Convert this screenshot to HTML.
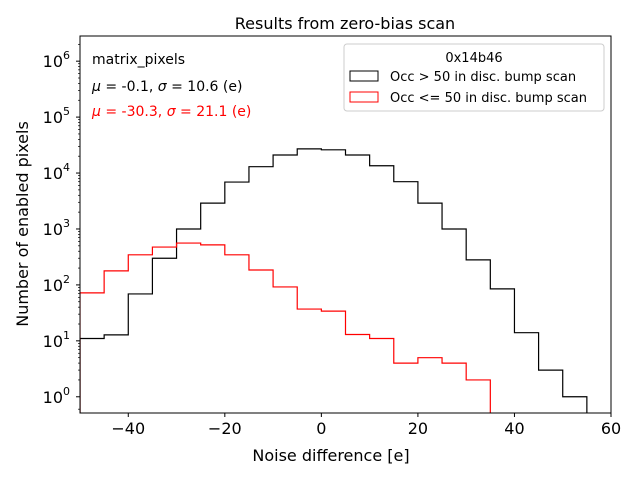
<!DOCTYPE html>
<html><head><meta charset="utf-8"><style>
body{margin:0;background:#fff;}
svg text{font-family:"DejaVu Sans","Liberation Sans",sans-serif;}
</style></head><body>
<svg id="chart" width="640" height="480" viewBox="0 0 640 480">
<rect width="640" height="480" fill="#fff"/>
<text x="345" y="29" font-size="16" text-anchor="middle">Results from zero-bias scan</text>
<defs><clipPath id="pc"><rect x="80" y="36" width="531" height="377"/></clipPath></defs>
<g id="marks" clip-path="url(#pc)"></g>
<rect x="80" y="36" width="531" height="377" fill="none" stroke="#000" stroke-width="1"/>
<g id="axes"></g>
<text x="331" y="461" font-size="16" text-anchor="middle">Noise difference [e]</text>
<text x="23" y="224" font-size="16" text-anchor="middle" transform="rotate(-90 23 224)" dy="5">Number of enabled pixels</text>
<text x="92" y="64" font-size="14">matrix_pixels</text>
<text x="92" y="91" font-size="14"><tspan font-style="italic">μ</tspan> = -0.1, <tspan font-style="italic">σ</tspan> = 10.6 (e)</text>
<text x="92" y="116" font-size="14" fill="#ff0000"><tspan font-style="italic">μ</tspan> = -30.3, <tspan font-style="italic">σ</tspan> = 21.1 (e)</text>
<g>
<rect x="344" y="44" width="260" height="67" rx="3" fill="#fff" stroke="#ccc"/>
<text x="474" y="62" font-size="13" text-anchor="middle">0x14b46</text>
<rect x="350" y="71" width="28" height="10" fill="none" stroke="#000"/>
<text x="390" y="81" font-size="13">Occ &gt; 50 in disc. bump scan</text>
<rect x="350" y="92" width="28" height="10" fill="none" stroke="#ff0000"/>
<text x="390" y="102" font-size="13">Occ &lt;= 50 in disc. bump scan</text>
</g>
</svg>
<script>
const binEdgesBlack=[-50,-45,-40,-35,-30,-25,-20,-15,-10,-5,0,5,10,15,20,25,30,35,40,45,50,55];
const countsBlack=[11,12.8,69,300,1000,2900,6900,13000,21000,27000,26000,21000,13500,7000,2900,1000,280,85,14,3,1];
const binEdgesRed=[-50,-45,-40,-35,-30,-25,-20,-15,-10,-5,0,5,10,15,20,25,30,35];
const countsRed=[72,178,345,475,560,520,345,185,92,37,34,13,11,4,5,4,2];
const xTicks=[-40,-20,0,20,40,60];
const yTickExps=[0,1,2,3,4,5,6];
const NS="http://www.w3.org/2000/svg";
const X0=80,X1=611,Y0=413,Y1=36;
const xmin=-50,xmax=60,lmin=-0.29,lmax=6.45;
function xs(v){return X0+(v-xmin)/(xmax-xmin)*(X1-X0);}
function ys(v){return Y0-(Math.log10(v)-lmin)/(lmax-lmin)*(Y0-Y1);}
function mk(t,a){const e=document.createElementNS(NS,t);for(const k in a)e.setAttribute(k,a[k]);return e;}
const marks=document.getElementById('marks'),axes=document.getElementById('axes');
function step(edges,counts,color,name){
  let d="M"+xs(edges[0])+","+(Y0+5);
  for(let i=0;i<counts.length;i++){const y=ys(counts[i]);d+=" L"+xs(edges[i])+","+y+" L"+xs(edges[i+1])+","+y;}
  d+=" L"+xs(edges[edges.length-1])+","+(Y0+5);
  const p=mk('path',{d:d,fill:'none',stroke:color,'stroke-width':1.2});
  
  
  marks.appendChild(p);
}
step(binEdgesBlack,countsBlack,'#000','series-occ-gt-50');
step(binEdgesRed,countsRed,'#ff0000','series-occ-le-50');
xTicks.forEach(v=>{
  const x=xs(v);
  axes.appendChild(mk('line',{x1:x,x2:x,y1:Y0,y2:Y0+4,stroke:'#000'}));
  const t=mk('text',{x:x,y:Y0+21,'font-size':16,'text-anchor':'middle'});
  t.textContent=(v<0?'\u2212'+(-v):v);
  
  
  axes.appendChild(t);
});
yTickExps.forEach(e=>{
  const y=ys(Math.pow(10,e));
  axes.appendChild(mk('line',{x1:X0-4,x2:X0,y1:y,y2:y,stroke:'#000'}));
  for(let m=2;m<10;m++){const ym=ys(m*Math.pow(10,e));if(ym>Y1&&ym<Y0)axes.appendChild(mk('line',{x1:X0-2,x2:X0,y1:ym,y2:ym,stroke:'#000','stroke-width':0.7}));}
  const t=mk('text',{x:X0-10,y:y+6,'font-size':16,'text-anchor':'end'});
  t.innerHTML='10<tspan dy="-8" font-size="11">'+e+'</tspan>';
  
  
  axes.appendChild(t);
});
{const ym=ys(0.6);axes.appendChild(mk('line',{x1:X0-2,x2:X0,y1:ym,y2:ym,stroke:'#000','stroke-width':0.7}));}
</script>
</body></html>
